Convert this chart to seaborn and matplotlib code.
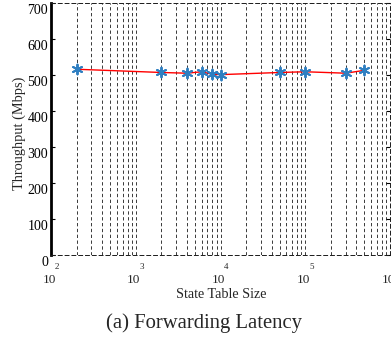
import numpy as np
import pandas as pd
import matplotlib
matplotlib.use("Agg")
import matplotlib.pyplot as plt
from matplotlib.transforms import ScaledTranslation, offset_copy
import seaborn as sns

# ---- data ----
table_size = [200, 2000, 4000, 6000, 8000, 10000, 50000, 100000, 300000, 500000]
throughput = [516, 507, 505, 509, 502, 501, 507, 509, 505, 513]
y_ticks = [0, 100, 200, 300, 400, 500, 600, 700]
x_exponents = [2, 3, 4, 5, 6]

df = pd.DataFrame({"size": table_size, "thr": throughput})

sns.set_style("white")
plt.rcParams["font.family"] = ["Liberation Serif", "DejaVu Serif"]

fig = plt.figure(figsize=(3.91, 3.39), dpi=100)
ax = fig.add_axes([51 / 391, 1 - 255 / 339, (390 - 51) / 391, (255 - 3) / 339])

sns.lineplot(data=df, x="size", y="thr", color="red", linewidth=1.0, ax=ax, zorder=3)
sns.scatterplot(data=df, x="size", y="thr", marker=(6, 2, 0), s=50, color="#2f7fc1",
                linewidth=1.4, ax=ax, zorder=4)

ax.set_xscale("log")
ax.set_xlim(1e2, 1e6)
ax.set_ylim(0, 700)
ax.set_yticks(y_ticks)
ax.set_yticklabels([str(v) for v in y_ticks], fontsize=10)

# vertical grid: major + minor, dashed black
ax.xaxis.set_minor_locator(matplotlib.ticker.LogLocator(base=10, subs=np.arange(2, 10)))
ax.grid(True, which="both", axis="x", linestyle=(0, (4, 3)), color="#1a1a1a", linewidth=0.6)
ax.grid(False, axis="y")
ax.set_xticklabels([])
ax.set_xticklabels([], minor=True)
ax.tick_params(axis="x", which="both", length=0)
ax.tick_params(axis="y", which="major", direction="in", length=3, width=0.8,
               left=True, right=True, pad=2, colors="black", labelsize=10)

# shift y tick labels slightly down like reference
for lab in ax.get_yticklabels():
    lab.set_transform(lab.get_transform() + ScaledTranslation(0, -6 / 100, fig.dpi_scale_trans))

# spines
for s in ["top", "bottom", "right"]:
    ax.spines[s].set_linestyle((0, (4, 3)))
    ax.spines[s].set_linewidth(0.7)
    ax.spines[s].set_color("#1a1a1a")
ax.spines["left"].set_linewidth(2.0)
ax.spines["left"].set_color("black")

# x tick labels in MATLAB style (10 with raised exponent)
tr = ax.get_xaxis_transform()
for k in x_exponents:
    t1 = offset_copy(tr, fig=fig, x=-2, y=-25, units="dots")
    ax.text(10.0 ** k, 0, "10", transform=t1, ha="center", va="center", fontsize=9.5,
            clip_on=False)
    t2 = offset_copy(tr, fig=fig, x=6, y=-12, units="dots")
    ax.text(10.0 ** k, 0, str(k), transform=t2, ha="center", va="center", fontsize=6.5,
            clip_on=False)

ax.set_xlabel("")
ax.set_ylabel("")
fig.text(221 / 391, 1 - 294 / 339, "State Table Size", ha="center", va="center", fontsize=10.2)
fig.text(19 / 391, 1 - 133 / 339, "Throughput (Mbps)", ha="center", va="center",
         rotation=90, fontsize=10.4)
fig.text(204 / 391, 1 - 323 / 339, "(a) Forwarding Latency", ha="center", va="center",
         fontsize=14.9)

fig.savefig("out.png", dpi=100)
